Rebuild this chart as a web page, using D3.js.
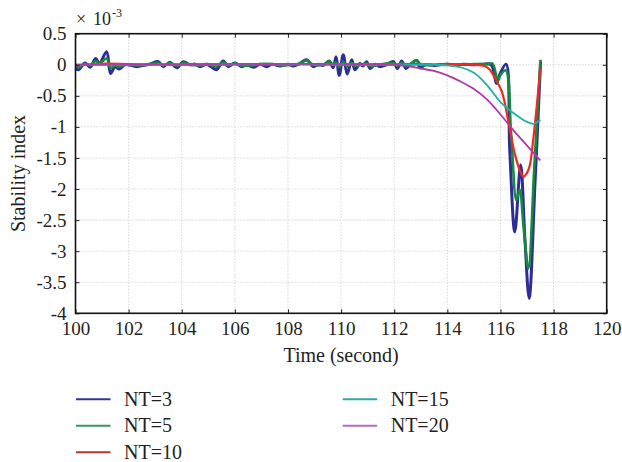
<!DOCTYPE html>
<html>
<head>
<meta charset="utf-8">
<script src="https://cdn.jsdelivr.net/npm/d3@7"></script>
<style>
  body { margin: 0; background: #fff; }
  svg text { font-family: "Liberation Serif", "DejaVu Serif", serif; fill: #231f20; }
</style>
</head>
<body>
<svg id="canvas" width="622" height="462"></svg>
<script>
// values in units of 1e-3, times in seconds
const nt3T = [100.0,100.12,100.36,100.55,100.76,100.9,101.17,101.32,101.49,101.65,101.86,102.1,102.33,102.55,102.8,103.12,103.3,103.56,103.81,104.06,104.31,104.5,104.69,104.94,105.13,105.31,105.56,105.75,106.0,106.26,106.45,106.7,106.95,107.2,107.39,107.7,108.01,108.2,108.45,108.7,108.95,109.15,109.33,109.55,109.7,109.81,109.93,110.08,110.23,110.4,110.52,110.71,110.82,110.96,111.09,111.28,111.46,111.7,111.97,112.12,112.28,112.44,112.6,112.85,112.97,113.16,113.5,114.0,114.3,114.6,115.0,115.3,115.65,115.85,115.97,116.21,116.35,116.54,116.76,116.92,117.08,117.3,117.51];
const nt3V = [-0.06,-0.08,0.03,-0.04,0.10,0.02,0.21,-0.14,-0.03,-0.07,0.0,-0.01,-0.03,-0.01,0.01,0.05,-0.03,0.04,-0.05,0.05,0.0,0.01,-0.03,0.01,-0.04,-0.08,0.06,-0.03,0.03,-0.03,0.0,-0.04,0.01,-0.03,0.01,-0.02,0.01,-0.02,0.02,0.08,-0.03,0.01,-0.01,0.06,-0.05,0.13,-0.17,0.16,-0.15,0.08,-0.08,0.02,-0.02,0.05,-0.06,0.01,-0.03,0.0,0.05,-0.06,0.06,-0.06,0.0,0.07,-0.05,0.0,-0.01,0.01,-0.01,0.01,0.0,0.01,0.0,-0.30,-0.16,0.01,-1.37,-2.69,-1.61,-2.80,-3.76,-1.91,0.05];

const nt5T = [100.0,100.12,100.36,100.55,100.76,100.9,101.17,101.32,101.49,101.65,101.86,102.33,102.8,103.12,103.3,103.56,103.81,104.06,104.31,104.69,104.94,105.31,105.56,105.75,106.0,106.26,106.7,106.95,107.39,107.7,108.2,108.45,108.7,108.95,109.33,109.55,109.7,109.81,109.93,110.08,110.23,110.4,110.52,110.96,111.09,111.46,111.97,112.12,112.28,112.44,112.85,113.0,113.5,114.0,114.6,115.0,115.5,115.7,115.9,116.02,116.2,116.4,116.6,116.72,116.88,117.05,117.28,117.51];
const nt5V = [-0.02,-0.04,0.01,-0.01,0.06,0.02,0.10,-0.05,-0.01,-0.03,0.0,-0.01,0.01,0.03,-0.01,0.03,-0.02,0.03,0.0,-0.01,0.01,-0.03,0.04,-0.01,0.02,-0.01,-0.01,0.01,0.01,-0.01,0.0,0.02,0.07,0.0,0.0,0.06,0.0,0.04,-0.04,0.05,-0.03,0.03,-0.02,0.02,-0.02,0.0,0.03,-0.02,0.03,-0.02,0.07,0.0,0.0,0.01,0.0,0.01,0.01,0.02,-0.25,-0.15,-0.09,-1.10,-2.18,-2.01,-2.65,-3.28,-1.60,0.08];

const nt10T = [100.0,101.17,103.0,108.7,110.0,112.85,113.5,114.5,115.0,115.4,115.6,115.8,116.05,116.3,116.55,116.75,116.86,117.0,117.11,117.24,117.37,117.5];
const nt10V = [-0.01,0.02,0.0,0.01,0.0,0.01,0.0,0.01,0.0,-0.02,-0.08,-0.22,-0.43,-0.92,-1.45,-1.72,-1.80,-1.74,-1.61,-1.18,-0.65,-0.05];

const nt15T = [100.0,113.5,114.0,114.5,115.0,115.5,116.0,116.5,117.0,117.25,117.5];
const nt15V = [0.0,0.0,-0.01,-0.04,-0.13,-0.33,-0.60,-0.78,-0.92,-0.95,-0.89];

const nt20T = [100.0,112.0,112.5,113.0,113.5,114.0,114.5,115.0,115.5,116.0,116.5,117.0,117.5];
const nt20V = [0.0,0.0,-0.02,-0.06,-0.10,-0.17,-0.27,-0.39,-0.56,-0.80,-1.06,-1.30,-1.54];

const seriesNames = ['NT=3', 'NT=5', 'NT=10', 'NT=15', 'NT=20'];
const xTicks = [100, 102, 104, 106, 108, 110, 112, 114, 116, 118, 120];
const yTicks = [0.5, 0, -0.5, -1, -1.5, -2, -2.5, -3, -3.5, -4];

const series = [
    { name: seriesNames[0], t: nt3T, v: nt3V, color: '#2e2c96', legend: '#343494', width: 3 },
    { name: seriesNames[1], t: nt5T, v: nt5V, color: '#168a3c', legend: '#3b9560', width: 2.6 },
    { name: seriesNames[2], t: nt10T, v: nt10V, color: '#ee2a22', legend: '#b83636', width: 2.2 },
    { name: seriesNames[3], t: nt15T, v: nt15V, color: '#1fb2a6', legend: '#2aaaa2', width: 1.8 },
    { name: seriesNames[4], t: nt20T, v: nt20V, color: '#b03aa6', legend: '#b86cb8', width: 1.8 }
];

const serif = 'Liberation Serif';
const svg = d3.select('#canvas');
const pLeft = 75.5, pRight = 606.7, pTop = 33.7, pBottom = 313.3;

const x = d3.scaleLinear().domain([100, 120]).range([pLeft, pRight]);
const y = d3.scaleLinear().domain([-4, 0.5]).range([pBottom, pTop]);

// dotted grid
const grid = svg.append('g').attr('stroke', '#c4c4c4').attr('stroke-width', 1).attr('stroke-dasharray', '1,2');
grid.selectAll('.gx').data(xTicks.slice(1, -1)).enter().append('line')
    .attr('x1', d => x(d)).attr('x2', d => x(d)).attr('y1', pTop).attr('y2', pBottom);
grid.selectAll('.gy').data(yTicks.slice(1, -1)).enter().append('line')
    .attr('x1', pLeft).attr('x2', pRight).attr('y1', d => y(d)).attr('y2', d => y(d));

// lines
const line = d3.line().x(d => x(d[0])).y(d => y(d[1])).curve(d3.curveCatmullRom.alpha(0.5));
const plot = svg.append('g');
series.forEach(s => {
    plot.append('path')
        .datum(s.t.map((t, i) => [t, s.v[i]]))
        .attr('fill', 'none')
        .attr('stroke', s.color)
        .attr('stroke-width', s.width)
        .attr('stroke-linejoin', 'round')
        .attr('d', line);
});

// axes with inward ticks
const fmt = d => String(d);
const axB = svg.append('g').attr('transform', 'translate(0,' + pBottom + ')')
    .call(d3.axisBottom(x).tickValues(xTicks).tickSize(-4).tickPadding(8).tickFormat(fmt));
const axL = svg.append('g').attr('transform', 'translate(' + pLeft + ',0)')
    .call(d3.axisLeft(y).tickValues(yTicks).tickSize(-4).tickPadding(9).tickFormat(fmt));
svg.append('g').attr('transform', 'translate(0,' + pTop + ')')
    .call(d3.axisTop(x).tickValues(xTicks).tickSize(-4).tickFormat(''));
svg.append('g').attr('transform', 'translate(' + pRight + ',0)')
    .call(d3.axisRight(y).tickValues(yTicks).tickSize(-4).tickFormat(''));
svg.selectAll('.domain').remove();
svg.selectAll('.tick line').attr('stroke', '#222').attr('stroke-width', 1);
[axB, axL].forEach(ax => {
    ax.attr('font-family', serif).attr('font-size', 19);
    ax.selectAll('text').attr('font-family', serif).attr('font-size', 19).attr('fill', '#231f20');
});

// frame
svg.append('rect')
    .attr('x', pLeft).attr('y', pTop)
    .attr('width', pRight - pLeft).attr('height', pBottom - pTop)
    .attr('fill', 'none').attr('stroke', '#111').attr('stroke-width', 1.6);

// exponent note
svg.append('text').attr('x', 76).attr('y', 25).attr('font-size', 18).text('×');
svg.append('text').attr('x', 93).attr('y', 25).attr('font-size', 18).text('10');
svg.append('text').attr('x', 112).attr('y', 17).attr('font-size', 12).text('-3');

// axis titles
svg.append('text').attr('x', (pLeft + pRight) / 2).attr('y', 362)
    .attr('text-anchor', 'middle').attr('font-size', 20).text('Time (second)');
svg.append('text').attr('transform', 'translate(25,' + ((pTop + pBottom) / 2) + ') rotate(-90)')
    .attr('text-anchor', 'middle').attr('font-size', 20).text('Stability index');

// legend
const legendPos = [[76, 399.3], [76, 425.7], [76, 452.3], [342.7, 399.3], [342.7, 425.7]];
series.forEach((s, i) => {
    const p = legendPos[i];
    svg.append('line').attr('x1', p[0]).attr('x2', p[0] + 34.5).attr('y1', p[1]).attr('y2', p[1])
        .attr('stroke', s.legend).attr('stroke-width', 2);
    svg.append('text').attr('x', p[0] + 48).attr('y', p[1] + 6.5)
        .attr('font-size', 20).text(s.name);
});
svg.selectAll('text').style('font-family', serif);
</script>
</body>
</html>
